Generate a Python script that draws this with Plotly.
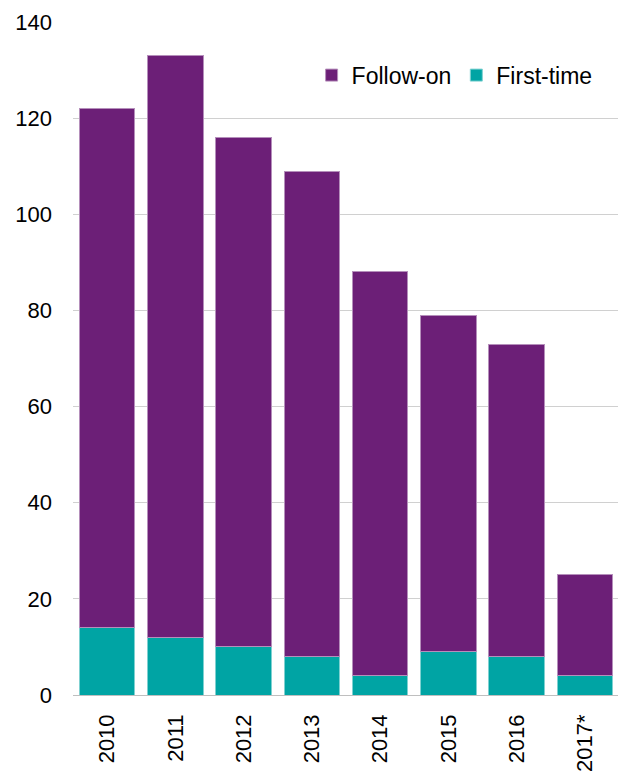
import plotly.graph_objects as go

years = ["2010", "2011", "2012", "2013", "2014", "2015", "2016", "2017*"]
first_time = [14, 12, 10, 8, 4, 9, 8, 4]
follow_on = [108, 121, 106, 101, 84, 70, 65, 21]

purple = "#6C1F77"
teal = "#00A4A4"

fig = go.Figure()
fig.add_trace(go.Bar(x=years, y=first_time, name="First-time",
                     marker=dict(color=teal, line=dict(color="#7FD1D1", width=1))))
fig.add_trace(go.Bar(x=years, y=follow_on, name="Follow-on",
                     marker=dict(color=purple, line=dict(color="#B58FBB", width=1))))

# page body has an 8px margin, so the figure is 8px smaller and offsets reduced
fig.update_layout(
    barmode="stack",
    bargap=0.19,
    width=618, height=765,
    margin=dict(l=65, r=7, t=14, b=78, autoexpand=False),
    plot_bgcolor="white", paper_bgcolor="white",
    font=dict(family="Liberation Sans, Arial, sans-serif", size=22, color="#000000"),
    legend=dict(orientation="h", x=0.437, y=0.921, xanchor="left", yanchor="middle",
                traceorder="reversed", font=dict(size=23), bgcolor="rgba(0,0,0,0)",
                itemwidth=30, tracegroupgap=0),
    showlegend=True,
)
fig.update_yaxes(range=[0, 140], dtick=20, showgrid=True, gridcolor="#D0D0D0", gridwidth=1,
                 zeroline=True, zerolinecolor="#BFBFBF", zerolinewidth=1,
                 showline=False, ticks="", ticklabelstandoff=20, automargin=False,
                 tickfont=dict(size=22))
fig.update_xaxes(tickangle=-90, showline=False, ticks="", ticklabelstandoff=14,
                 automargin=False, tickfont=dict(size=22))

fig.write_html("out.html")
